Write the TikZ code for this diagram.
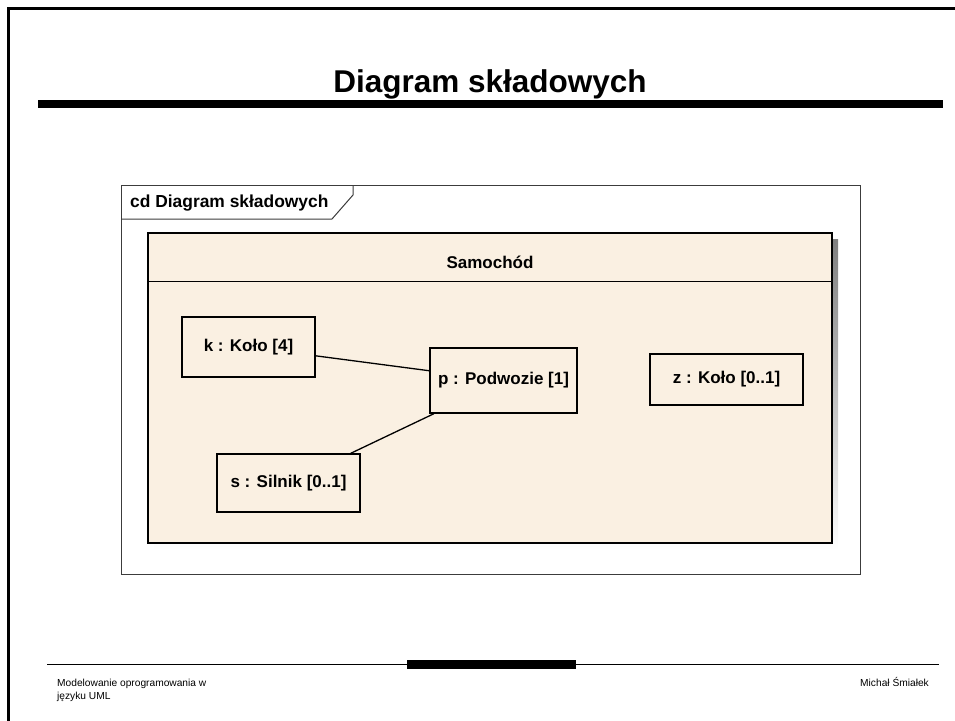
\documentclass[tikz,border=0pt]{standalone}
\usepackage{fontspec}
\setmainfont{Liberation Sans}
\definecolor{cream}{RGB}{250,240,226}
\definecolor{shade}{RGB}{192,192,192}
\definecolor{framegray}{RGB}{60,60,60}
\begin{document}
\begin{tikzpicture}[x=1pt,y=-1pt,
  part/.style={draw=black, fill=cream, line width=1.4pt, inner sep=0pt,
    font=\fontsize{17}{20}\selectfont\bfseries},
  link/.style={draw=black, line width=1.3pt},
  foot/.style={font=\fontsize{10.2}{12}\selectfont, inner sep=0pt}]
\useasboundingbox (0,0) rectangle (955,720);

% slide border (top and left)
\draw[line width=2.5pt, line cap=rect] (8.7,720) -- (8.7,8.7) -- (955,8.7);

% title and rule
\node[anchor=base, font=\fontsize{31.5}{36}\selectfont\bfseries, inner sep=0pt]
  (title) at (490,92) {Diagram składowych};
\fill[black] (38,100) rectangle (943,108);

% diagram frame with name tab
\draw[framegray, line width=1pt] (121,185) rectangle (860,574);
\draw[framegray, line width=1pt] (121,219) -- (332,219) -- (353,195) -- (353,185);
\node[anchor=base west, font=\fontsize{17.4}{20}\selectfont\bfseries, inner sep=0pt]
  (tab) at (130,207.5) {cd Diagram składowych};

% composite class Samochód with shadow
\fill[shade] (154,239) rectangle (838,550);
\draw[fill=cream, line width=1.5pt] (148,233) rectangle (832,543);
\draw[line width=1.5pt] (148,281.5) -- (832,281.5);
\node[font=\fontsize{17}{20}\selectfont\bfseries, inner sep=0pt]
  (samochod) at (490,262) {Samochód};

% parts
\node[part, minimum width=133pt, minimum height=60pt] (k) at (248.5,347) {k : Koło [4]};
\node[part, minimum width=147pt, minimum height=65pt] (p) at (503.5,380.5) {p : Podwozie [1]};
\node[part, minimum width=143pt, minimum height=58pt] (s) at (288.5,483) {s : Silnik [0..1]};
\node[part, minimum width=153pt, minimum height=51pt] (z) at (726.5,379.5) {z : Koło [0..1]};

% connectors
\draw[link] (k) -- (p);
\draw[link] (s) -- (p);

% footer
\draw[line width=1pt] (47,664) -- (939,664);
\fill[black] (407,660) rectangle (576,669);
\node[foot, anchor=base west] (f1) at (57,686) {Modelowanie oprogramowania w};
\node[foot, anchor=base west] (f2) at (57,699.5) {języku UML};
\node[foot, anchor=base east] (f3) at (929,686) {Michał Śmiałek};
\end{tikzpicture}
\end{document}
